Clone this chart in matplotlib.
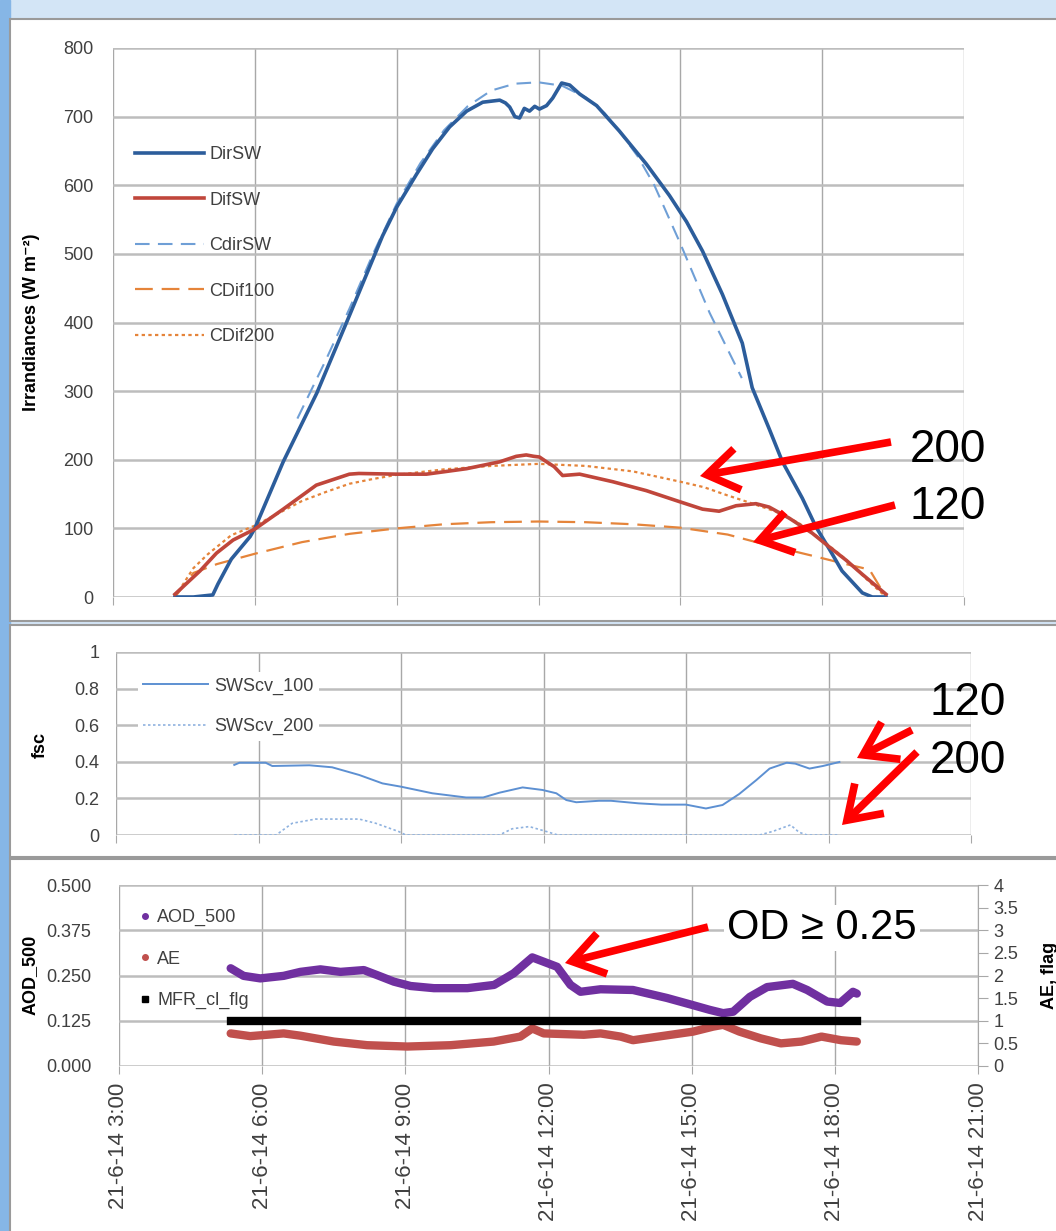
import matplotlib
matplotlib.use("Agg")
import matplotlib.pyplot as plt
from matplotlib.patches import Rectangle, FancyArrowPatch
from matplotlib.lines import Line2D
from matplotlib.ticker import FixedLocator, FuncFormatter

plt.rcParams['font.family'] = ['Liberation Sans', 'DejaVu Sans']

# ---- data (hours of 21-6-14) ----
dir_t = [4.31, 4.7, 5.11, 5.22, 5.5, 5.9, 6.0, 6.6, 7.31, 8.0, 8.7, 9.0, 9.42, 9.76, 10.12, 10.48,
         10.82, 11.18, 11.3, 11.39, 11.5, 11.6, 11.7, 11.81, 11.92, 12.02, 12.17, 12.3, 12.49, 12.66,
         12.87, 13.23, 13.71, 14.28, 14.77, 15.13, 15.47, 15.89, 16.31, 16.52, 16.88, 17.16, 17.58,
         17.87, 18.15, 18.42, 18.85, 19.06, 19.35]
dir_v = [0, 0, 3, 19, 55, 88, 100, 197, 297, 410, 526, 568, 616, 653, 685, 708,
         721, 724, 720, 714, 700, 698, 712, 708, 715, 711, 716, 727, 749, 746,
         733, 716, 679, 631, 585, 547, 504, 441, 370, 305, 245, 197, 144,
         102, 70, 38, 6, 0, 0]

dif_t = [4.31, 4.84, 5.19, 5.54, 6.0, 6.6, 7.3, 8.0, 8.2, 9.0, 9.63, 10.48, 11.18, 11.53, 11.74,
         11.9, 12.02, 12.17, 12.33, 12.51, 12.87, 13.57, 14.28, 14.98, 15.47, 15.82, 16.18, 16.6,
         16.88, 17.3, 17.79, 18.15, 18.5, 18.85, 19.35]
dif_v = [4, 38, 64, 83, 99, 128, 163, 179, 180, 179, 179, 187, 197, 205, 207,
         205, 204, 197, 190, 177, 179, 168, 155, 139, 128, 125, 133, 136,
         131, 115, 93, 73, 54, 33, 4]

cdir_t = [6.9, 7.5, 8.0, 8.5, 9.0, 9.5, 10.0, 10.5, 11.0, 11.5, 12.0, 12.5, 13.0, 13.4, 13.71,
          14.1, 14.45, 15.0, 15.62, 16.3]
cdir_v = [260, 345, 420, 500, 573, 632, 680, 715, 738, 748, 750, 745, 728, 705, 679,
          642, 600, 515, 414, 319]

cdif100_t = [4.31, 4.7, 5.2, 6.0, 7.0, 8.0, 9.0, 10.0, 11.0, 12.0, 13.0, 14.0, 15.0, 16.0, 16.6,
             17.2, 17.8, 18.5, 19.0, 19.35]
cdif100_v = [0, 35, 48, 63, 80, 92, 100, 106, 109, 110, 109, 106, 101, 91, 80,
             70, 60, 48, 40, 0]

cdif200_t = [4.31, 4.7, 5.0, 5.5, 6.0, 6.5, 7.0, 7.5, 8.0, 8.5, 9.0, 10.0, 11.0, 12.0, 13.0, 14.0,
             15.0, 15.5, 16.0, 16.4, 17.0, 17.5, 18.0, 18.5, 19.0, 19.35]
cdif200_v = [0, 42, 62, 90, 104, 122, 140, 153, 165, 172, 178, 186, 191, 194, 191, 183,
             168, 160, 148, 139, 125, 108, 83, 55, 22, 0]

sw100_t = [5.49, 5.6, 6.15, 6.29, 7.07, 7.55, 8.12, 8.61, 9.0, 9.66, 10.37, 10.73, 11.07, 11.56,
           11.98, 12.27, 12.48, 12.69, 13.17, 13.42, 14.0, 14.48, 15.0, 15.42, 15.77, 16.12, 16.48,
           16.76, 17.12, 17.3, 17.6, 17.88, 18.23]
sw100_v = [0.383, 0.395, 0.395, 0.377, 0.381, 0.370, 0.328, 0.282, 0.264, 0.228, 0.205, 0.205,
           0.231, 0.260, 0.246, 0.228, 0.191, 0.179, 0.187, 0.187, 0.173, 0.166, 0.166, 0.145,
           0.164, 0.224, 0.300, 0.363, 0.395, 0.390, 0.363, 0.377, 0.399]

sw200_t = [5.49, 6.37, 6.71, 7.2, 8.12, 8.47, 8.96, 9.1, 11.07, 11.34, 11.7, 12.05, 12.3, 16.55,
           16.83, 17.2, 17.38, 17.55, 18.2]
sw200_v = [0, 0, 0.064, 0.087, 0.087, 0.064, 0.018, 0, 0, 0.034, 0.046, 0.02, 0, 0,
           0.02, 0.055, 0.015, 0, 0]

aod_t = [5.34, 5.61, 5.96, 6.45, 6.8, 7.22, 7.64, 8.13, 8.41, 8.76, 9.11, 9.6, 10.3, 10.86, 11.27,
         11.66, 11.9, 12.18, 12.46, 12.67, 13.09, 13.77, 14.48, 15.03, 15.38, 15.66, 15.87, 16.22,
         16.58, 17.12, 17.42, 17.84, 18.11, 18.38, 18.46]
aod_v = [0.270, 0.249, 0.242, 0.249, 0.260, 0.267, 0.260, 0.265, 0.251, 0.233, 0.221, 0.215,
         0.215, 0.224, 0.256, 0.300, 0.288, 0.274, 0.224, 0.205, 0.212, 0.210, 0.188, 0.168,
         0.155, 0.146, 0.150, 0.191, 0.218, 0.227, 0.210, 0.178, 0.174, 0.205, 0.200]

ae_t = [5.34, 5.75, 6.45, 6.8, 7.5, 8.2, 9.04, 9.95, 10.85, 11.41, 11.66, 11.9, 12.74, 13.09, 13.51,
        13.77, 14.3, 15.03, 15.45, 15.66, 16.0, 16.45, 16.87, 17.3, 17.72, 18.13, 18.46]
ae_v = [0.72, 0.66, 0.72, 0.67, 0.54, 0.46, 0.43, 0.46, 0.54, 0.65, 0.83, 0.72, 0.69, 0.72, 0.65,
        0.57, 0.65, 0.76, 0.87, 0.91, 0.76, 0.61, 0.50, 0.54, 0.65, 0.57, 0.54]

flag_t = [5.34, 18.46]
flag_v = [1, 1]

hour_ticks = [3, 6, 9, 12, 15, 18, 21]
hour_labels = ['21-6-14 %d:00' % h for h in hour_ticks]

W, H = 1056, 1231
TXT = '#404040'
GRID = '#bdbdbd'


def px_rect(x0, y0, x1, y1):
    """pixel box (top-left origin) -> figure fraction [l, b, w, h]"""
    return [x0 / W, 1 - y1 / H, (x1 - x0) / W, (y1 - y0) / H]


def fpt(x, y):
    return (x / W, 1 - y / H)


def style_axes(ax, yticks):
    ax.set_xlim(3, 21)
    ax.xaxis.set_major_locator(FixedLocator(hour_ticks))
    ax.yaxis.set_major_locator(FixedLocator(yticks))
    ax.set_ylim(yticks[0], yticks[-1])
    ax.grid(True, axis='y', color=GRID, lw=1.8)
    ax.grid(True, axis='x', color='#a8a8a8', lw=1.0)
    for s in ax.spines.values():
        s.set_visible(False)
    ax.tick_params(axis='y', length=0, pad=14, labelsize=13, labelcolor=TXT)
    ax.tick_params(axis='x', length=6, color='#a8a8a8', labelbottom=False)
    ax.set_facecolor('white')


fig = plt.figure(figsize=(W / 100, H / 100), dpi=100)
fig.patch.set_facecolor('#d3e5f6')

# slide background pieces
fig.add_artist(Rectangle((0, 0), 10 / W, 1, transform=fig.transFigure, color='#86b6e6', zorder=0))
for (y0, y1) in [(19, 621), (625, 857), (859, 1240)]:
    l, b, w, h = px_rect(10, y0, 1070, y1)
    fig.add_artist(Rectangle((l, b), w, h, transform=fig.transFigure, facecolor='white',
                             edgecolor='#9a9a9a', lw=1.5, zorder=0))

# ---- top panel: irradiances ----
ax1 = fig.add_axes(px_rect(113, 48, 964, 597))
style_axes(ax1, list(range(0, 801, 100)))
ax1.plot(dir_t, dir_v, color='#2c5d9b', lw=2.6, label='DirSW', zorder=5)
ax1.plot(dif_t, dif_v, color='#c0463b', lw=2.6, label='DifSW', zorder=5)
ax1.plot(cdir_t, cdir_v, color='#6f9fd6', lw=1.5, dashes=(7, 4), label='CdirSW', zorder=4)
ax1.plot(cdif100_t, cdif100_v, color='#e5843a', lw=1.6, dashes=(8, 4), label='CDif100', zorder=4)
ax1.plot(cdif200_t, cdif200_v, color='#e5843a', lw=1.6, dashes=(1.5, 1.5), label='CDif200', zorder=4)
ax1.legend(loc='upper left', bbox_to_anchor=fpt(128, 139), bbox_transform=fig.transFigure,
           frameon=False, fontsize=13, handlelength=3.8, handletextpad=0.3, labelspacing=1.58,
           labelcolor=TXT, borderaxespad=0)

# ---- middle panel: fsc ----
ax2 = fig.add_axes(px_rect(116, 652, 971, 835))
style_axes(ax2, [0, 0.2, 0.4, 0.6, 0.8, 1.0])
ax2.yaxis.set_major_formatter(FuncFormatter(lambda v, p: '%g' % v))
ax2.tick_params(axis='y', pad=12)
ax2.plot(sw100_t, sw100_v, color='#5d90d2', lw=1.4, label='SWScv_100')
ax2.plot(sw200_t, sw200_v, color='#8fb2df', lw=1.2, dashes=(1.5, 1.5), label='SWScv_200')
ax2.legend(loc='upper left', bbox_to_anchor=fpt(138, 672), bbox_transform=fig.transFigure,
           frameon=True, facecolor='white', edgecolor='none', framealpha=1, fancybox=False,
           fontsize=13, handlelength=3.6, handletextpad=0.3, labelspacing=1.3,
           labelcolor=TXT, borderaxespad=0, borderpad=0.3)

# ---- bottom panel: AOD / AE / flag ----
ax3 = fig.add_axes(px_rect(119, 885, 978, 1066))
style_axes(ax3, [0, 0.125, 0.25, 0.375, 0.5])
ax3.yaxis.set_major_formatter(FuncFormatter(lambda v, p: '%.3f' % v))
ax3.tick_params(axis='y', pad=20)
ax3.tick_params(axis='x', labelbottom=True, labelrotation=90, labelsize=16, labelcolor=TXT, pad=6)
ax3.set_xticklabels(hour_labels)
ax3r = ax3.twinx()
ax3r.set_ylim(0, 4)
ax3r.yaxis.set_major_locator(FixedLocator([0, 0.5, 1, 1.5, 2, 2.5, 3, 3.5, 4]))
ax3r.yaxis.set_major_formatter(FuncFormatter(lambda v, p: '%g' % v))
for s in ax3r.spines.values():
    s.set_visible(False)
ax3r.spines['right'].set_visible(True)
ax3r.spines['right'].set_color('#a8a8a8')
ax3r.tick_params(axis='y', length=7, color='#a8a8a8', labelsize=13, labelcolor=TXT, pad=4)

ax3.plot(aod_t, aod_v, color='#7030a0', lw=6, solid_capstyle='round', zorder=3)
ax3r.plot(ae_t, ae_v, color='#c0504d', lw=6, solid_capstyle='round', zorder=3)
ax3r.plot(flag_t, flag_v, color='black', lw=6, zorder=4)
handles = [Line2D([], [], ls='', marker='o', ms=4, color='#7030a0'),
           Line2D([], [], ls='', marker='o', ms=4, color='#c0504d'),
           Line2D([], [], ls='', marker='s', ms=4, color='black')]
ax3r.legend(handles, ['AOD_500', 'AE', 'MFR_cl_flg'], loc='upper left',
            bbox_to_anchor=fpt(132, 902), bbox_transform=fig.transFigure, frameon=False,
            fontsize=13, handlelength=0.6, handletextpad=0.4, labelspacing=1.35, labelcolor=TXT,
            borderaxespad=0, numpoints=1)

# ---- axis titles ----
fig.text(*fpt(32, 322), 'Irrandiances (W m\u207b\u00b2)', rotation=90, ha='center', va='center',
         fontsize=13, fontweight='bold')
fig.text(*fpt(40, 745), 'fsc', rotation=90, ha='center', va='center', fontsize=13, fontweight='bold')
fig.text(*fpt(30, 975), 'AOD_500', rotation=90, ha='center', va='center', fontsize=13, fontweight='bold')
fig.text(*fpt(1049, 975), 'AE, flag', rotation=90, ha='center', va='center', fontsize=13, fontweight='bold')

# ---- red annotations ----
arrows = [((891, 442), (700, 476)), ((895, 505), (753, 542)),
          ((912, 730), (857, 758)), ((917, 752), (842, 825)),
          ((708, 927), (565, 963))]
for (x0, y0), (x1, y1) in arrows:
    fig.add_artist(FancyArrowPatch(fpt(x0, y0), fpt(x1, y1), transform=fig.transFigure,
                                   arrowstyle='->,head_length=0.45,head_width=0.3', color='#ff0000',
                                   lw=5.5, mutation_scale=50, shrinkA=0, shrinkB=0,
                                   joinstyle='miter', capstyle='butt', zorder=20))
fig.text(*fpt(948, 450), '200', ha='center', va='center', fontsize=33, zorder=21)
fig.text(*fpt(948, 507), '120', ha='center', va='center', fontsize=33, zorder=21)
fig.text(*fpt(968, 703), '120', ha='center', va='center', fontsize=33, zorder=21)
fig.text(*fpt(968, 761), '200', ha='center', va='center', fontsize=33, zorder=21)
fig.text(*fpt(822, 928), 'OD \u2265 0.25', ha='center', va='center', fontsize=30, zorder=21,
         bbox=dict(facecolor='white', edgecolor='none', pad=2))

fig.savefig('out.png', dpi=100, facecolor=fig.get_facecolor())
